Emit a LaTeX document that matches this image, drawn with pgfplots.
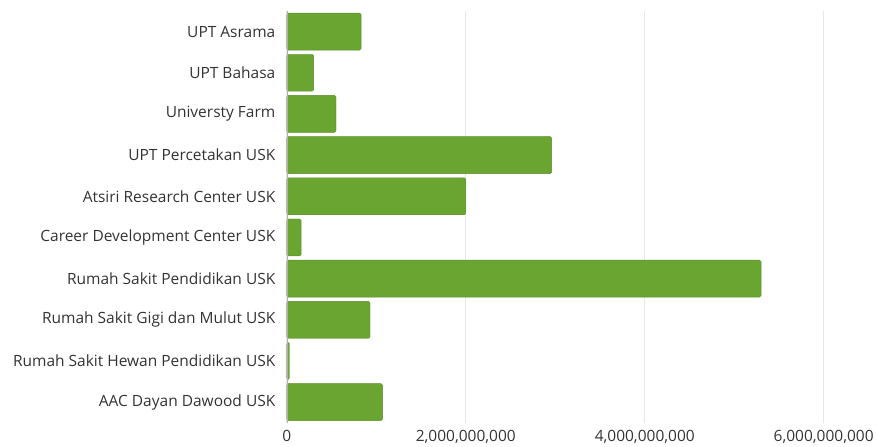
\documentclass[border=0pt]{standalone}
\usepackage{fontspec}
\setmainfont{Open Sans}
\usepackage{pgfplots}
\pgfplotsset{compat=1.18}
\definecolor{bargreen}{RGB}{106,165,50}
\definecolor{labelgray}{RGB}{51,51,51}
\definecolor{gridgray}{RGB}{230,230,230}
\begin{document}
\begin{tikzpicture}
\begin{axis}[
    xbar,
    scale only axis,
    width=582pt, height=412pt,
    xmin=0, xmax=6.5e9,
    ymin=-0.5, ymax=9.5,
    y dir=reverse,
    bar width=37pt,
    scaled x ticks=false,
    xtick={0,2e9,4e9,6e9},
    xticklabels={0,{2,000,000,000},{4,000,000,000},{6,000,000,000}},
    ytick={0,...,9},
    yticklabels={UPT Asrama,UPT Bahasa,Universty Farm,UPT Percetakan USK,Atsiri Research Center USK,Career Development Center USK,Rumah Sakit Pendidikan USK,Rumah Sakit Gigi dan Mulut USK,Rumah Sakit Hewan Pendidikan USK,AAC Dayan Dawood USK},
    xmajorgrids,
    grid style={gridgray, line width=0.8pt},
    major tick length=0pt,
    axis line style={draw=none},
    ticklabel style={font=\fontsize{15.5}{18}\selectfont, text=labelgray},
    /pgf/number format/assume math mode=true,
    xticklabel shift=4pt,
    yticklabel shift=8pt,
    clip=false,
]
\addplot[draw=bargreen!85!black, line width=0.4pt, fill=bargreen, rounded corners=1.5pt]
  coordinates {(0.83e9,0) (0.30e9,1) (0.55e9,2) (2.96e9,3) (2.00e9,4)
               (0.16e9,5) (5.30e9,6) (0.93e9,7) (0.03e9,8) (1.07e9,9)};
\draw[gray!60, line width=0.6pt] (rel axis cs:0,0) -- (rel axis cs:0,1);
\end{axis}
\path ([shift={(-287pt,-24pt)}]current axis.south west) rectangle ([shift={(8pt,11pt)}]current axis.north east);
\end{tikzpicture}
\end{document}
